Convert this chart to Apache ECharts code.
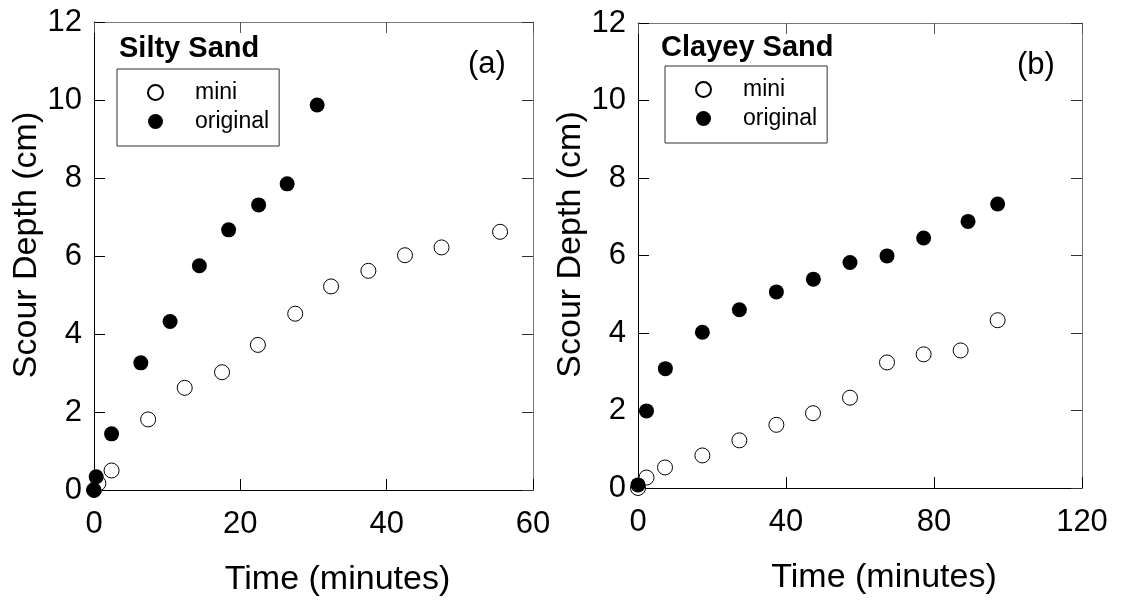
<!DOCTYPE html>
<html>
<head>
<meta charset="utf-8">
<script src="https://cdn.jsdelivr.net/npm/echarts@6/dist/echarts.min.js"></script>
<style>
html,body{margin:0;padding:0;background:#fff;}
#chart{width:1121px;height:602px;}
</style>
</head>
<body>
<div id="chart"></div>
<script>
// Panel (a): Silty Sand
const siltyMini = [[0, 0], [0.6, 0.17], [2.4, 0.5], [7.4, 1.81], [12.4, 2.62], [17.5, 3.02], [22.4, 3.72], [27.5, 4.52], [32.4, 5.22], [37.5, 5.62], [42.5, 6.02], [47.5, 6.22], [55.5, 6.62]];
const siltyOriginal = [[0, 0], [0.3, 0.34], [2.4, 1.44], [6.4, 3.26], [10.4, 4.32], [14.4, 5.75], [18.4, 6.67], [22.5, 7.31], [26.4, 7.85], [30.5, 9.87]];
// Panel (b): Clayey Sand
const clayeyMini = [[0, 0], [2.3, 0.27], [7.3, 0.53], [17.4, 0.84], [27.4, 1.23], [37.4, 1.63], [47.3, 1.93], [57.3, 2.33], [67.3, 3.24], [77.2, 3.45], [87.2, 3.55], [97.2, 4.33]];
const clayeyOriginal = [[0, 0.08], [2.3, 1.99], [7.4, 3.08], [17.4, 4.02], [27.4, 4.6], [37.4, 5.06], [47.4, 5.39], [57.3, 5.82], [67.3, 5.99], [77.2, 6.45], [89.2, 6.88], [97.2, 7.33]];

const xTicksA = {min: 0, max: 60, interval: 20};
const xTicksB = {min: 0, max: 120, interval: 40};
const yTicks = {min: 0, max: 12, interval: 2};

const panelTitles = ['Silty Sand', 'Clayey Sand'];
const panelTags = ['(a)', '(b)'];
const seriesNames = ['mini', 'original'];
const xName = 'Time (minutes)';
const yName = 'Scour Depth (cm)';

const FONT = 'Liberation Sans, Arial, Helvetica, sans-serif';

const chart = echarts.init(document.getElementById('chart'), null, {renderer: 'canvas'});

function mainX(grid, ticks) {
  return {
    type: 'value', gridIndex: grid, position: 'bottom',
    min: ticks.min, max: ticks.max, interval: ticks.interval,
    name: xName, nameLocation: 'middle', nameGap: 73,
    nameTextStyle: {fontFamily: FONT, fontSize: 34, color: '#000', padding: [0, 0, 0, 48]},
    axisLine: {show: true, onZero: false, lineStyle: {color: '#000', width: 1}},
    axisTick: {show: true, inside: true, length: 11, lineStyle: {color: '#000'}},
    axisLabel: {fontFamily: FONT, fontSize: 31, color: '#000', margin: 19},
    splitLine: {show: false}
  };
}
function topX(grid, ticks) {
  return {
    type: 'value', gridIndex: grid, position: 'top',
    min: ticks.min, max: ticks.max, interval: ticks.interval,
    axisLine: {show: true, onZero: false, lineStyle: {color: '#777', width: 1}},
    axisTick: {show: true, inside: true, length: 11, lineStyle: {color: '#555'}},
    axisLabel: {show: false}, splitLine: {show: false}
  };
}
function mainY(grid, gap) {
  return {
    type: 'value', gridIndex: grid, position: 'left',
    min: yTicks.min, max: yTicks.max, interval: yTicks.interval,
    name: yName, nameLocation: 'middle', nameGap: gap,
    nameTextStyle: {fontFamily: FONT, fontSize: 34, color: '#000', padding: [0, 0, 0, 22]},
    axisLine: {show: true, onZero: false, lineStyle: {color: '#000', width: 1}},
    axisTick: {show: true, inside: true, length: 11, lineStyle: {color: '#000'}},
    axisLabel: {fontFamily: FONT, fontSize: 31, color: '#000', margin: 12},
    splitLine: {show: false}
  };
}
function rightY(grid) {
  return {
    type: 'value', gridIndex: grid, position: 'right',
    min: yTicks.min, max: yTicks.max, interval: yTicks.interval,
    axisLine: {show: true, onZero: false, lineStyle: {color: '#777', width: 1}},
    axisTick: {show: true, inside: true, length: 11, lineStyle: {color: '#333'}},
    axisLabel: {show: false}, splitLine: {show: false}
  };
}
function openSeries(data, xi, yi) {
  return {
    name: seriesNames[0], type: 'scatter', xAxisIndex: xi, yAxisIndex: yi,
    data: data, symbol: 'circle', symbolSize: 15,
    itemStyle: {color: '#fff', borderColor: '#000', borderWidth: 1, opacity: 1},
    emphasis: {disabled: true}, z: 2
  };
}
function filledSeries(data, xi, yi) {
  return {
    name: seriesNames[1], type: 'scatter', xAxisIndex: xi, yAxisIndex: yi,
    data: data, symbol: 'circle', symbolSize: 15,
    itemStyle: {color: '#000', borderColor: '#000', borderWidth: 0, opacity: 1},
    emphasis: {disabled: true}, z: 3
  };
}
function legend(left, top) {
  return {
    left: left, top: top, orient: 'vertical',
    data: seriesNames, itemWidth: 15, itemHeight: 15, itemGap: 6,
    padding: [12, 10, 13, 30],
    borderColor: '#333', borderWidth: 1, backgroundColor: '#fff',
    selectedMode: false,
    textStyle: {fontFamily: FONT, fontSize: 23, color: '#000', padding: [0, 0, 0, 27]}
  };
}

chart.setOption({
  backgroundColor: '#fff',
  animation: false,
  grid: [
    {left: 94, top: 22, width: 439, height: 468},
    {left: 638, top: 23, width: 444, height: 465}
  ],
  xAxis: [mainX(0, xTicksA), topX(0, xTicksA), mainX(1, xTicksB), topX(1, xTicksB)],
  yAxis: [mainY(0, 46), rightY(0), mainY(1, 50), rightY(1)],
  legend: [legend(117, 69), legend(665, 66)],
  series: [
    openSeries(siltyMini, 0, 0),
    filledSeries(siltyOriginal, 0, 0),
    openSeries(clayeyMini, 2, 2),
    filledSeries(clayeyOriginal, 2, 2)
  ],
  graphic: [
    {type: 'text', left: 119, top: 34, style: {text: panelTitles[0], fontFamily: FONT, fontSize: 29, fontWeight: 'bold', fill: '#000'}},
    {type: 'text', left: 661, top: 33, style: {text: panelTitles[1], fontFamily: FONT, fontSize: 29, fontWeight: 'bold', fill: '#000'}},
    {type: 'text', left: 468, top: 49, style: {text: panelTags[0], fontFamily: FONT, fontSize: 31, fill: '#000'}},
    {type: 'text', left: 1017, top: 50, style: {text: panelTags[1], fontFamily: FONT, fontSize: 31, fill: '#000'}}
  ]
});
</script>
</body>
</html>
